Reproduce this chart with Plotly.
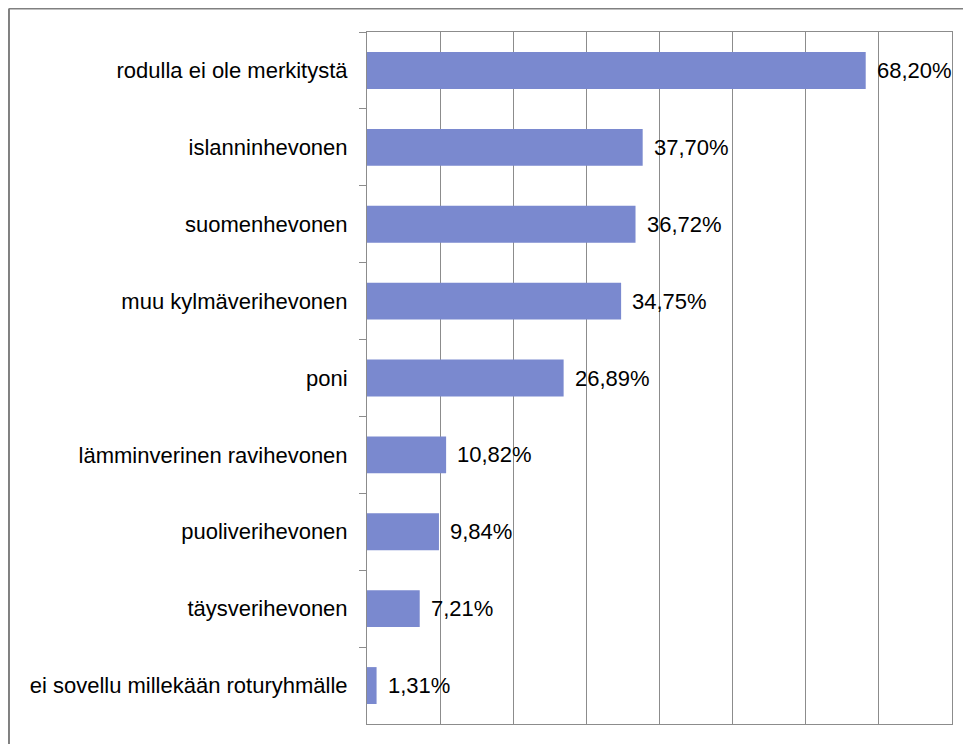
import plotly.graph_objects as go

# horse breed answers, top to bottom as in the chart
categories = [
    "rodulla ei ole merkitystä",
    "islanninhevonen",
    "suomenhevonen",
    "muu kylmäverihevonen",
    "poni",
    "lämminverinen ravihevonen",
    "puoliverihevonen",
    "täysverihevonen",
    "ei sovellu millekään roturyhmälle",
]
shares = [68.20, 37.70, 36.72, 34.75, 26.89, 10.82, 9.84, 7.21, 1.31]

labels = [f"{v:.2f}".replace(".", ",") + "%" for v in shares]

FONT = "Liberation Sans, Arial, sans-serif"
GRID = "#8c8c8c"

fig = go.Figure()
fig.add_trace(
    go.Bar(
        x=shares,
        y=categories,
        orientation="h",
        width=0.48,
        marker=dict(color="#7a89cf", line=dict(width=0)),
        hoverinfo="skip",
    )
)

# value labels to the right of each bar
for cat, val, lab in zip(categories, shares, labels):
    fig.add_annotation(
        x=val, y=cat, text=lab, showarrow=False,
        xanchor="left", yanchor="middle", xshift=9,
        font=dict(family=FONT, size=22, color="#000000"),
    )

# outer chart frame (left and top edges are visible)
fig.add_shape(type="line", xref="paper", yref="paper",
              x0=-0.612, x1=-0.612, y0=-0.2, y1=1.034,
              line=dict(color="#808080", width=2))
fig.add_shape(type="line", xref="paper", yref="paper",
              x0=-0.612, x1=1.2, y0=1.034, y1=1.034,
              line=dict(color="#808080", width=2))

fig.update_layout(
    width=963,
    height=736,
    margin=dict(l=359, r=19, t=24, b=20),
    paper_bgcolor="white",
    plot_bgcolor="white",
    showlegend=False,
    font=dict(family=FONT, size=22, color="#000000"),
)
fig.update_xaxes(
    range=[0, 80], dtick=10, showticklabels=False,
    showgrid=True, gridcolor=GRID, gridwidth=1, zeroline=False,
    showline=True, linecolor=GRID, linewidth=1, mirror=True,
    ticks="",
)
fig.update_yaxes(
    autorange="reversed", type="category",
    showline=True, linecolor=GRID, linewidth=1, mirror=True,
    ticks="outside", ticklen=7, tickcolor=GRID, tickson="boundaries",
    ticklabelstandoff=14, showgrid=False,
    tickfont=dict(family=FONT, size=22, color="#000000"),
)

fig.write_html("out.html")
